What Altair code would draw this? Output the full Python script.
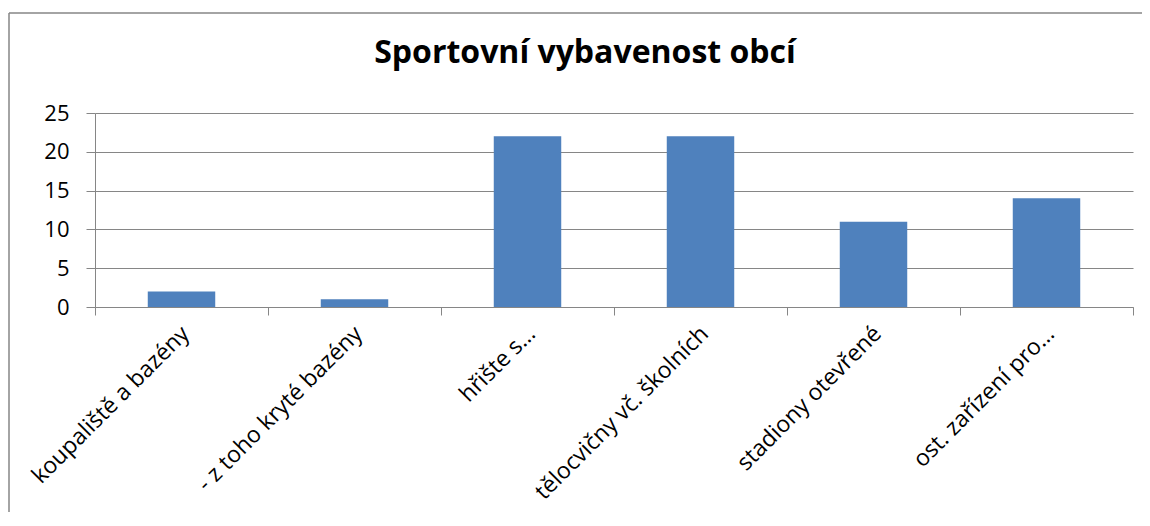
import altair as alt
import pandas as pd

categories = ["koupaliště a bazény", "- z toho kryté bazény", "hřište s…",
              "tělocvičny vč. školních", "stadiony otevřené", "ost. zařízení pro…"]
values = [2, 1, 22, 22, 11, 14]
title_text = "Sportovní vybavenost obcí"

df = pd.DataFrame({"kat": categories, "pocet": values})

W, H = 1038, 194
FONT = "Open Sans"
GRAY = "#868686"

x_enc = alt.X("kat:N", sort=categories, title=None,
              scale=alt.Scale(paddingInner=0, paddingOuter=0),
              axis=alt.Axis(labelAngle=-45, labelFontSize=23, labelFont=FONT,
                            labelColor="#000000", tickBand="extent", tickSize=8,
                            tickColor=GRAY, domainColor=GRAY, labelPadding=7,
                            labelOffset=-4, labelLimit=400, grid=False))
y_enc = alt.Y("pocet:Q", title=None,
              scale=alt.Scale(domain=[0, 25], nice=False),
              axis=alt.Axis(values=[0, 5, 10, 15, 20, 25], labelFontSize=22,
                            labelFont=FONT, labelColor="#000000", tickSize=9,
                            tickColor=GRAY, domainColor=GRAY, gridColor=GRAY,
                            gridOpacity=1, labelPadding=17))

bars = alt.Chart(df).mark_bar(color="#4F81BD", width=alt.RelativeBandSize(0.39)).encode(x=x_enc, y=y_enc)

one = pd.DataFrame({"a": [0]})
border_top = alt.Chart(one).mark_rule(color=GRAY, strokeWidth=1.5, clip=False).encode(
    x=alt.value(-86), x2=alt.value(1100), y=alt.value(-100))
border_left = alt.Chart(one).mark_rule(color=GRAY, strokeWidth=1.5, clip=False).encode(
    x=alt.value(-86), y=alt.value(-100), y2=alt.value(430))

title = alt.Chart(pd.DataFrame({"t": [title_text]})).mark_text(
    font=FONT, fontSize=32, fontWeight="bold", color="#000000", baseline="alphabetic"
).encode(text="t:N", x=alt.value(490), y=alt.value(-50))

chart = alt.layer(border_top, border_left, bars, title).properties(
    width=W, height=H,
    padding={"left": 87, "top": 105, "right": 9, "bottom": 205},
    autosize=alt.AutoSizeParams(type="none"),
).configure_view(stroke=None).configure_axis(gridWidth=1, domainWidth=1, tickWidth=1)

chart.save("out.html", embed_options={"renderer": "svg", "actions": False})
